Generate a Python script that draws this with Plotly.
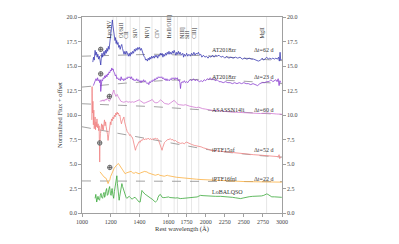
import plotly.graph_objects as go

# ---------------- data (rest wavelength in Angstrom, normalized flux + offset) -------------
zr62 = [(1075,15.4),(1080,15.9),(1085,15.6),(1091,16.6),(1096,16.1),(1101,16.4),(1105,15.9),(1110,16.2),(1115,15.7),(1120,16.0),
        (1125,15.6),(1130,15.1),(1134,15.8),(1139,16.3),(1143,15.9),(1148,16.2),(1153,16.5),(1158,16.1),(1163,16.6),(1168,16.3),
        (1173,16.8),(1178,16.5),(1183,17.0),(1188,16.7),(1193,17.3),(1198,17.6),(1203,18.3),(1207,18.9),(1211,19.7),(1214,19.2),
        (1218,18.7),(1221,18.9),(1225,18.1),(1229,17.6),(1233,17.9),(1237,17.3),(1241,17.6),(1245,17.2),(1250,17.4),(1255,16.9),
        (1260,17.1),(1265,16.7),(1270,17.0),(1276,17.2),(1281,16.8),(1286,16.6),(1292,16.2),(1298,16.5),(1304,16.2),(1310,16.5),
        (1316,16.3),(1322,16.0),(1328,16.3),(1334,16.0),(1340,16.4),(1346,16.2),(1352,16.5),(1358,16.3),(1364,16.7),(1370,16.5),
        (1376,16.8),(1382,16.6),(1388,16.9),(1394,16.7),(1400,16.9),(1406,16.6),(1412,16.8),(1418,16.5),(1424,16.3),(1430,16.0),
        (1436,15.9),(1442,15.6),(1448,15.7),(1454,15.5),(1460,15.8),(1466,15.6),(1472,15.9),(1478,15.7),(1484,16.0),(1490,15.8),
        (1496,16.0),(1502,15.8),(1508,16.1),(1514,15.9),(1520,16.1),(1526,15.8),(1532,16.1),(1538,16.0),(1544,16.3),(1550,16.1),
        (1556,16.3),(1562,15.9),(1568,16.2),(1574,16.0),(1580,16.3),(1586,16.1),(1592,16.4),(1598,16.2),(1604,16.5),(1610,16.2),
        (1616,16.4),(1622,16.2),(1628,16.5),(1634,16.3),(1640,16.6),(1646,16.3),(1652,16.1),(1658,16.4),(1664,16.2),(1670,16.5),
        (1676,16.2),(1682,16.4),(1690,16.1),(1700,16.3),(1710,15.9),(1720,16.2),(1735,16.0),(1750,16.3),(1765,16.0),(1780,16.2),
        (1800,16.0),(1815,16.3),(1830,16.1),(1845,16.4),(1860,16.1),(1875,16.3),(1890,16.2),(1905,16.4),(1920,16.1),(1935,16.2),
        (1950,15.9),(1970,16.1),(1990,15.9),(2010,16.0),(2030,15.8),(2050,16.0),(2070,15.9),(2090,16.1),(2110,15.9),(2130,16.1),
        (2150,16.0),(2175,16.1),(2200,15.9),(2225,16.0),(2250,15.8),(2275,16.0),(2300,15.8),(2330,15.9),(2360,15.8),(2390,15.9),
        (2420,15.8),(2450,15.9),(2480,15.7),(2510,15.8),(2540,15.7),(2570,15.8),(2600,15.7),(2630,15.7),(2660,15.6),(2690,15.5),
        (2720,15.6),(2740,15.8),(2760,15.6),(2780,15.8),(2800,15.9),(2820,15.7),(2840,15.8),(2860,15.7),(2880,15.8),(2900,15.7),
        (2920,15.8),(2940,15.7),(2955,15.9),(2965,15.5),(2975,16.4),(2983,15.6),(2991,15.7)]

zr23 = [(1079,13.0),(1085,13.3),(1091,13.4),(1097,13.7),(1103,13.5),(1108,13.8),(1113,13.5),(1118,13.6),(1123,13.3),(1127,13.6),
        (1130,12.4),(1133,13.3),(1138,13.6),(1143,13.5),(1148,13.8),(1153,13.7),(1158,14.0),(1163,13.8),(1168,14.1),(1173,13.9),
        (1178,14.2),(1183,14.1),(1188,14.4),(1193,14.3),(1198,14.6),(1203,14.5),(1207,14.8),(1211,14.6),(1216,14.7),(1221,14.4),
        (1226,14.3),(1231,14.0),(1236,14.1),(1242,13.7),(1248,13.8),(1254,13.6),(1260,13.7),(1266,13.5),(1272,13.9),(1278,13.6),
        (1284,13.7),(1290,13.5),(1296,13.7),(1302,13.6),(1308,13.8),(1314,13.7),(1320,13.9),(1326,13.8),(1332,13.9),(1338,13.7),
        (1344,13.9),(1350,13.6),(1356,13.7),(1362,13.5),(1368,13.6),(1374,13.5),(1380,13.7),(1386,13.5),(1392,13.6),(1398,13.4),
        (1404,13.5),(1410,13.3),(1416,13.5),(1422,13.4),(1428,13.6),(1434,13.4),(1440,13.5),(1446,13.3),(1452,13.2),(1458,13.3),
        (1464,13.1),(1470,13.4),(1476,13.3),(1482,13.5),(1488,13.4),(1494,13.6),(1500,13.5),(1506,13.7),(1512,13.6),(1518,13.8),
        (1524,13.7),(1530,13.9),(1536,13.8),(1542,13.9),(1548,13.8),(1554,13.9),(1560,13.7),(1566,13.8),(1572,13.6),(1578,13.7),
        (1584,13.5),(1590,13.7),(1596,13.5),(1602,13.6),(1608,13.5),(1614,13.7),(1620,13.6),(1626,13.8),(1632,13.7),(1638,13.8),
        (1644,13.6),(1650,13.8),(1656,13.7),(1662,13.8),(1668,13.5),(1674,13.6),(1680,13.3),(1684,12.7),(1688,13.2),(1695,13.4),
        (1705,13.3),(1720,13.5),(1735,13.3),(1750,13.4),(1765,13.3),(1780,13.5),(1800,13.6),(1820,13.5),(1840,13.7),(1860,13.5),
        (1880,13.6),(1900,13.5),(1920,13.4),(1940,13.5),(1960,13.4),(1980,13.6),(2000,13.5),(2020,13.7),(2040,13.6),(2060,13.8),
        (2080,13.6),(2100,13.7),(2125,13.5),(2150,13.6),(2175,13.4),(2200,13.4),(2230,13.3),(2260,13.4),(2290,13.3),(2320,13.3),
        (2350,13.2),(2380,13.3),(2410,13.2),(2440,13.3),(2470,13.2),(2500,13.3),(2530,13.2),(2560,13.2),(2590,13.1),(2620,13.2),
        (2650,13.1),(2680,13.0),(2710,13.2),(2740,13.3),(2770,13.3),(2800,13.4),(2830,13.4),(2855,13.6),(2880,13.4),(2900,13.5),
        (2920,13.6),(2935,13.4),(2950,13.7),(2962,13.0),(2972,13.5),(2984,13.3)]

asassn14li = [(1125,11.35),(1132,11.5),(1139,11.4),(1146,11.55),(1153,11.4),(1160,11.6),(1167,11.5),(1174,11.7),(1181,11.6),(1188,11.4),
              (1195,11.5),(1201,11.8),(1207,12.0),(1212,12.3),(1217,12.5),(1221,12.55),(1225,12.3),(1230,12.0),(1235,11.9),(1240,12.0),
              (1245,12.1),(1250,11.9),(1256,11.7),(1262,11.5),(1270,11.4),(1280,11.35),(1290,11.3),(1300,11.35),(1310,11.4),(1320,11.3),
              (1330,11.35),(1340,11.3),(1350,11.35),(1360,11.3),(1370,11.35),(1380,11.4),(1390,11.5),(1398,11.55),(1405,11.45),(1412,11.4),
              (1420,11.3),(1430,11.2),(1440,11.25),(1450,11.3),(1460,11.35),(1470,11.4),(1480,11.5),(1487,11.6),(1494,11.45),(1502,11.3),
              (1512,11.25),(1522,11.25),(1532,11.35),(1540,11.45),(1547,11.55),(1554,11.45),(1562,11.3),(1572,11.2),(1582,11.15),(1592,11.1),
              (1602,11.1),(1612,11.2),(1622,11.3),(1632,11.4),(1640,11.5),(1648,11.35),(1656,11.2),(1666,11.1),(1676,11.05),(1690,11.0),
              (1710,11.0),(1735,11.05),(1760,10.95),(1790,10.9),(1820,10.85),(1850,10.8),(1880,10.75),(1905,10.8),(1930,10.7),(1960,10.65),
              (2000,10.6),(2050,10.5),(2100,10.45),(2150,10.45),(2200,10.4),(2260,10.35),(2330,10.3),(2400,10.28),(2460,10.25),(2530,10.22),
              (2590,10.2),(2660,10.18),(2720,10.15),(2780,10.18),(2800,10.22),(2830,10.18),(2880,10.12),(2930,10.1),(2997,10.08)]

iptf15af = [(1068,9.5),(1070,12.9),(1073,10.2),(1076,11.4),(1079,9.0),(1082,10.5),(1085,8.6),(1088,9.8),(1091,9.8),(1094,8.5),
            (1097,9.3),(1100,8.8),(1104,9.6),(1108,8.7),(1112,9.1),(1116,8.4),(1119,8.9),(1121,7.6),(1123,5.2),(1125,7.2),
            (1128,8.1),(1132,8.9),(1136,9.1),(1140,8.5),(1144,9.0),(1148,8.45),(1152,9.2),(1156,9.5),(1160,8.9),(1164,9.3),
            (1168,8.8),(1172,8.5),(1177,8.0),(1181,7.4),(1185,8.0),(1189,8.6),(1193,8.9),(1197,9.3),(1201,9.0),(1205,9.6),
            (1210,9.4),(1215,9.8),(1220,9.6),(1225,10.0),(1230,9.8),(1235,10.2),(1240,10.0),(1244,10.3),(1248,10.1),(1253,10.2),
            (1258,9.9),(1263,10.0),(1268,9.5),(1274,9.1),(1279,9.4),(1285,9.6),(1291,9.8),(1296,9.3),(1302,8.8),(1308,8.6),
            (1314,8.3),(1320,8.2),(1325,8.1),(1331,7.9),(1337,8.0),(1342,7.8),(1348,7.75),(1354,7.5),(1360,7.0),(1365,6.6),
            (1371,6.4),(1377,6.7),(1383,6.9),(1390,7.1),(1397,7.3),(1404,7.2),(1411,7.45),(1418,7.4),(1427,7.6),(1435,7.45),
            (1443,7.6),(1451,7.5),(1460,7.65),(1468,7.5),(1476,7.6),(1484,7.45),(1492,7.6),(1500,7.5),(1508,7.65),(1516,7.55),
            (1524,7.6),(1532,7.4),(1540,7.1),(1546,6.8),(1551,6.5),(1556,6.4),(1561,6.7),(1567,7.0),(1573,7.2),(1580,7.3),
            (1588,7.4),(1596,7.5),(1605,7.5),(1613,7.6),(1622,7.45),(1631,7.5),(1640,7.35),(1650,7.4),(1660,7.25),(1670,7.2),
            (1683,7.1),(1700,7.15),(1720,7.05),(1745,7.25),(1765,7.2),(1790,7.1),(1815,7.0),(1850,6.9),(1885,6.85),(1915,6.8),
            (1940,6.75),(1970,6.65),(2000,6.6),(2035,6.5),(2070,6.4),(2130,6.35),(2200,6.25),(2280,6.2),(2360,6.1),(2450,6.05),
            (2540,6.0),(2630,5.95),(2720,5.9),(2810,5.85),(2900,5.8),(2950,5.75),(2962,5.95),(2970,5.55),(2985,5.75)]

iptf16fnl = [(1125,4.2),(1132,4.05),(1139,3.95),(1146,3.8),(1153,3.68),(1160,3.6),(1167,3.55),(1174,3.3),(1181,3.0),(1187,3.2),
             (1193,3.35),(1198,3.7),(1202,3.85),(1208,4.1),(1213,4.35),(1218,4.45),(1223,4.55),(1230,4.7),(1237,4.85),(1245,4.95),
             (1253,5.05),(1259,4.9),(1265,4.75),(1272,4.6),(1279,4.45),(1290,4.2),(1300,4.0),(1310,4.1),(1321,4.15),(1331,4.2),
             (1341,4.25),(1352,4.1),(1362,4.05),(1372,4.15),(1383,4.1),(1390,4.0),(1397,4.0),(1408,4.1),(1418,4.15),(1428,4.2),
             (1436,4.25),(1444,4.2),(1451,4.2),(1459,4.1),(1467,4.05),(1478,4.0),(1488,3.95),(1498,3.9),(1509,3.85),(1520,3.9),
             (1530,3.95),(1540,3.85),(1551,3.8),(1561,3.8),(1571,3.75),(1582,3.8),(1592,3.85),(1602,3.8),(1613,3.75),(1624,3.72),
             (1634,3.7),(1645,3.68),(1655,3.65),(1670,3.62),(1683,3.6),(1710,3.58),(1734,3.55),(1765,3.52),(1800,3.5),(1840,3.48),
             (1879,3.45),(1925,3.42),(1971,3.4),(2020,3.37),(2063,3.35),(2130,3.32),(2195,3.3),(2260,3.28),(2326,3.25),(2420,3.22),
             (2524,3.2),(2620,3.19),(2721,3.18),(2820,3.19),(2918,3.2),(2997,3.15)]

lobalqso = [(1091,1.5),(1096,1.9),(1102,1.12),(1107,1.6),(1111,1.7),(1116,1.4),(1122,1.3),(1127,1.8),(1132,2.0),(1137,1.6),
            (1143,1.5),(1148,1.9),(1153,2.1),(1157,1.6),(1160,1.7),(1165,2.2),(1171,2.5),(1176,1.8),(1181,1.9),(1186,2.4),
            (1192,2.7),(1197,2.0),(1202,1.8),(1206,2.3),(1209,2.5),(1214,1.9),(1220,1.5),(1225,2.2),(1230,2.8),(1236,3.2),
            (1242,3.8),(1246,3.0),(1251,2.3),(1255,1.8),(1258,1.3),(1262,1.7),(1265,2.0),(1271,2.6),(1277,3.0),(1282,2.7),
            (1286,2.5),(1293,2.1),(1300,1.8),(1306,1.6),(1311,1.5),(1320,1.65),(1328,1.7),(1338,1.55),(1348,1.4),(1358,1.55),
            (1369,1.6),(1380,1.4),(1390,1.2),(1397,1.12),(1404,1.12),(1410,1.7),(1416,2.3),(1421,2.2),(1425,2.1),(1432,2.0),
            (1439,1.9),(1445,1.85),(1451,1.8),(1459,1.7),(1467,1.6),(1478,1.5),(1488,1.4),(1499,1.25),(1509,1.12),(1516,1.2),
            (1523,1.3),(1528,1.6),(1532,1.8),(1538,1.85),(1544,1.9),(1550,1.75),(1557,1.6),(1564,1.57),(1571,1.55),(1578,1.58),
            (1585,1.6),(1593,1.62),(1601,1.64),(1610,1.58),(1620,1.55),(1630,1.52),(1641,1.5),(1651,1.53),(1662,1.55),(1672,1.5),
            (1683,1.47),(1700,1.49),(1721,1.5),(1750,1.53),(1774,1.55),(1800,1.58),(1826,1.6),(1857,1.62),(1888,1.64),(1910,1.72),
            (1932,1.8),(1965,1.77),(1997,1.75),(2030,1.72),(2063,1.7),(2130,1.7),(2195,1.7),(2250,1.68),(2300,1.65),(2350,1.6),
            (2392,1.55),(2430,1.5),(2458,1.47),(2490,1.53),(2524,1.6),(2570,1.66),(2616,1.7),(2655,1.7),(2695,1.7),(2730,1.74),
            (2761,1.8),(2785,1.88),(2800,1.95),(2815,1.9),(2830,1.8),(2850,1.7),(2866,1.65),(2900,1.65),(2932,1.65),(2965,1.62),
            (2997,1.6)]

# blackbody / continuum guide curves (dashed)
bb_zr62 = [(1000,16.0),(1500,16.2),(2000,16.05),(2500,15.8),(3000,15.55)]
bb_zr23 = [(1000,12.85),(1300,13.25),(1600,13.55),(2000,13.65),(2500,13.45),(3000,13.2)]
bb_14li = [(1000,11.15),(1500,10.85),(2000,10.5),(2500,10.25),(3000,10.05)]
bb_15af = [(1000,8.8),(1200,8.25),(1400,7.72),(1600,7.2),(1750,6.88),(2000,6.5),(2250,6.22),(2500,6.0),(2750,5.83),(3000,5.7)]
bb_16fnl = [(1000,3.27),(3000,3.2)]

# geocoronal / earth-symbol markers
earth_wl = [1130, 1130, 1190, 1123, 1193]
earth_fx = [16.7, 14.2, 11.9, 7.15, 4.65]

# line identifications
line_wl = [1216, 1304, 1335, 1400, 1486, 1549, 1640, 1750, 1814, 1909, 2798]
line_lab = ["Lyα/NV", "OI/SiII", "CII", "SiIV", "NIV]", "CIV", "HeII/OIII]", "NIII]", "SiII", "CIII]", "MgII"]
extra_line_wl = [1240, 1663]

names = ["AT2018zr", "AT2018zr", "ASASSN14li", "iPTF15af", "iPTF16fnl", "LoBALQSO"]
epochs = ["Δt=62 d", "Δt=23 d", "Δt=60 d", "Δt=52 d", "Δt=22 d", ""]
label_y = [16.65, 13.9, 10.55, 6.45, 3.5, 2.15]

xticks = [1000, 1200, 1400, 1600, 1750, 2000, 2250, 2500, 2750, 3000]
yticks = [0, 2.5, 5, 7.5, 10, 12.5, 15, 17.5, 20]

colors = ["#3c3cb4", "#8a3fd0", "#d27ad2", "#f08484", "#fbb040", "#3aa83a"]
spectra = [zr62, zr23, asassn14li, iptf15af, iptf16fnl, lobalqso]
bbs = [bb_zr62, bb_zr23, bb_14li, bb_15af, bb_16fnl]


# piecewise wavelength scale of the original axis (compressed red of 1700 A)
def tx(w):
    return w - 1000 if w <= 1700 else 700 + (w - 1700) * 0.53


FONT = "Liberation Serif, Times New Roman, serif"
fig = go.Figure()

for bb in bbs:
    fig.add_trace(go.Scatter(x=[tx(w) for w, _ in bb], y=[f for _, f in bb], mode="lines",
                             line=dict(color="#8c8c8c", width=0.8, dash="dash"), hoverinfo="skip"))

for sp, c in zip(spectra, colors):
    fig.add_trace(go.Scatter(x=[tx(w) for w, _ in sp], y=[f for _, f in sp], mode="lines",
                             line=dict(color=c, width=0.8)))

fig.add_trace(go.Scatter(x=[tx(w) for w in earth_wl], y=earth_fx, mode="markers",
                         marker=dict(symbol="circle-cross", size=4.5, color="#e0e0e0",
                                     line=dict(color="#444444", width=0.7))))

# invisible trace for right axis
fig.add_trace(go.Scatter(x=[tx(1000)], y=[0], yaxis="y2", mode="markers",
                         marker=dict(opacity=0), hoverinfo="skip"))

for w in line_wl + extra_line_wl:
    fig.add_shape(type="line", x0=tx(w), x1=tx(w), y0=0, y1=1, yref="paper",
                  line=dict(color="#dcdcdc", width=0.7), layer="below")

for w, t in zip(line_wl, line_lab):
    fig.add_annotation(x=tx(w), y=17.6, text=t, showarrow=False, textangle=-90,
                       xanchor="right", yanchor="bottom",
                       font=dict(family=FONT, size=5.5, color="#333"))

for n, e, yy in zip(names, epochs, label_y):
    fig.add_annotation(x=tx(2057), y=yy, text=n, showarrow=False, xanchor="left",
                       yanchor="middle", font=dict(family=FONT, size=6, color="#333"))
    if e:
        fig.add_annotation(x=tx(2610), y=yy, text=e, showarrow=False, xanchor="left",
                           yanchor="middle", font=dict(family=FONT, size=6, color="#333"))

axis_common = dict(showgrid=False, zeroline=False, linecolor="#888", linewidth=0.8,
                   ticks="outside", ticklen=3, tickcolor="#888", tickwidth=0.8, automargin=False,
                   tickfont=dict(family=FONT, size=6, color="#444"))

fig.update_layout(
    width=399, height=244,
    margin=dict(l=82, r=117, t=17, b=31),
    paper_bgcolor="white", plot_bgcolor="white",
    showlegend=False,
    xaxis=dict(range=[0, tx(3000)], tickvals=[tx(v) for v in xticks], ticktext=[str(v) for v in xticks],
               mirror=True, title=dict(text="Rest wavelength (Å)", standoff=1,
                                       font=dict(family=FONT, size=6.5, color="#333")),
               **axis_common),
    yaxis=dict(range=[0, 20], tickvals=yticks, ticktext=[f"{v:.1f}" for v in yticks],
               title=dict(text="Normalized Flux + offset", standoff=3,
                          font=dict(family=FONT, size=6.5, color="#333")),
               **axis_common),
    yaxis2=dict(range=[0, 20], overlaying="y", side="right", tickvals=yticks,
                ticktext=[f"{v:.1f}" for v in yticks], **axis_common),
)

fig.write_html("out.html", config={"displayModeBar": False, "staticPlot": True},
               post_script="document.body.style.margin='0';document.body.style.overflow='hidden';")
